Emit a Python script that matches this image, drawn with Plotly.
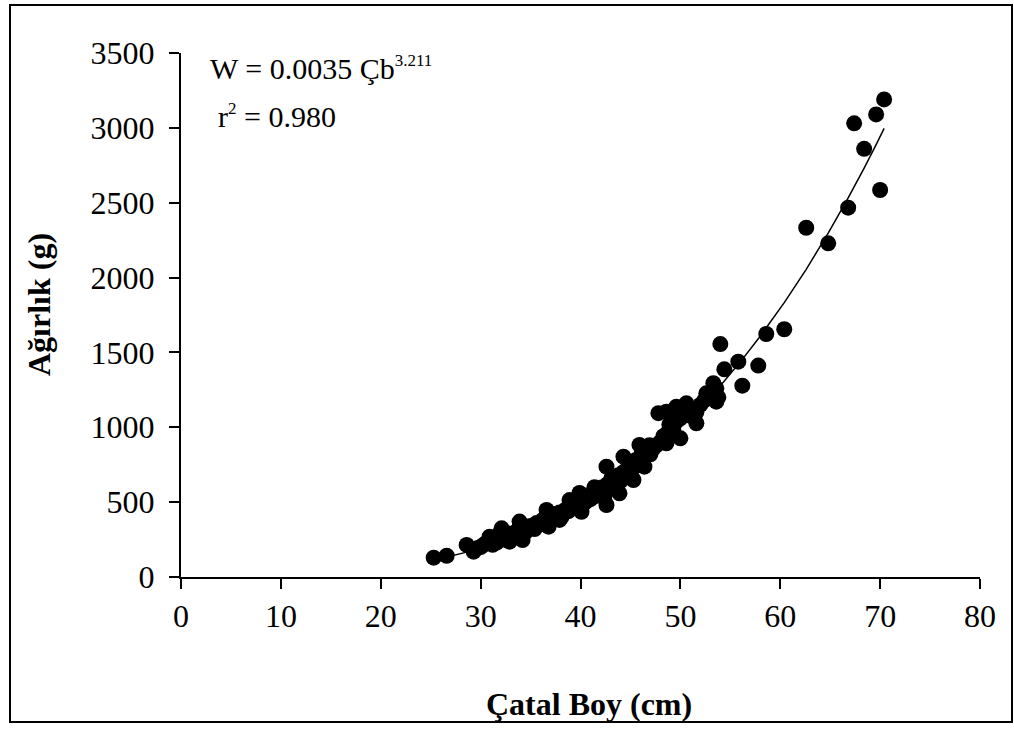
import plotly.graph_objects as go

# Fork length (cm) and weight (g)
length_cm = [
    25.3, 26.6, 28.6, 29.3, 29.7, 30.0, 30.3, 30.6, 30.9, 31.0, 31.2, 31.5, 31.8,
    32.0, 32.1, 32.3, 32.6, 32.8, 32.9, 33.0, 33.3, 33.5, 33.8, 33.9, 34.0, 34.2,
    34.2, 34.5, 34.8, 35.0, 35.3, 35.6, 35.9, 36.2, 36.5, 36.6, 36.8, 36.8, 37.0,
    37.3, 37.6, 37.9, 37.9, 38.2, 38.5, 38.8, 38.9, 39.0, 39.3, 39.6, 39.9, 39.9,
    40.1, 40.2, 40.5, 40.8, 41.0, 41.2, 41.5, 41.7, 42.0, 42.2, 42.4, 42.6, 42.6,
    42.7, 43.0, 43.2, 43.5, 43.8, 43.9, 44.0, 44.3, 44.3, 44.6, 44.9, 45.2, 45.3,
    45.5, 45.8, 45.9, 46.1, 46.4, 46.4, 46.7, 47.0, 47.3, 47.6, 47.8, 48.0, 48.3,
    48.6, 48.6, 48.7, 49.0, 49.3, 49.6, 49.6, 50.0, 50.0, 50.4, 50.6, 50.8, 51.2,
    51.6, 51.6, 52.0, 52.4, 52.6, 52.8, 53.2, 53.3, 53.6, 53.6, 53.8,
    41.4, 43.1, 44.8, 46.9, 48.9, 40.6, 38.1, 35.4, 33.6, 31.6,
    54.0, 54.4, 55.8, 56.2, 57.8, 58.6, 60.4, 62.6, 64.8, 66.8, 67.4, 68.4,
    69.6, 70.0, 70.4,
]
weight_g = [
    129, 142, 214, 169, 194, 200, 215, 230, 269, 250, 215, 240, 260,
    300, 325, 250, 270, 290, 236, 260, 280, 300, 320, 370, 280, 340,
    247, 300, 320, 340, 330, 360, 350, 380, 360, 448, 336, 400, 390,
    420, 400, 430, 381, 420, 450, 440, 514, 480, 470, 500, 480, 561,
    436, 520, 500, 540, 520, 560, 540, 580, 560, 600, 540, 737, 481,
    620, 600, 650, 620, 680, 559, 640, 700, 804, 680, 740, 720, 648,
    780, 760, 882, 820, 800, 737, 840, 820, 860, 880, 1094, 900, 940,
    1104, 893, 960, 1000, 980, 1040, 1138, 1060, 926, 1100, 1160, 1080, 1120,
    1100, 1027, 1150, 1180, 1227, 1200, 1240, 1294, 1260, 1171, 1200,
    600, 660, 760, 880, 1020, 510, 400, 320, 290, 230,
    1556, 1387, 1438, 1278, 1412, 1623, 1655, 2333, 2229, 2467, 3030, 2860,
    3090, 2585, 3190,
]

# Power-law fit shown on the chart: W = a * L^b
fit_a = 0.0035
fit_b = 3.211

x_ticks = [0, 10, 20, 30, 40, 50, 60, 70, 80]
y_ticks = [0, 500, 1000, 1500, 2000, 2500, 3000, 3500]

fit_x = sorted(length_cm)
fit_y = [fit_a * v ** fit_b for v in fit_x]

FONT = "Liberation Serif, Times New Roman, serif"

fig = go.Figure()
fig.add_trace(go.Scatter(
    x=length_cm, y=weight_g, mode="markers",
    marker=dict(size=16, color="black", line=dict(width=0)),
    showlegend=False, hoverinfo="x+y",
))
fig.add_trace(go.Scatter(
    x=fit_x, y=fit_y, mode="lines",
    line=dict(color="black", width=1.5),
    showlegend=False, hoverinfo="skip",
))

W, H = 1014, 736
L, R, T, B = 181, 34, 53, 159
pw, ph = W - L - R, H - T - B

def px_x(p):
    return (p - L) / pw

def px_y(p):
    return (H - B - p) / ph

fig.update_layout(
    width=W, height=H, autosize=False,
    margin=dict(l=L, r=R, t=T, b=B, pad=0),
    paper_bgcolor="white", plot_bgcolor="white",
    font=dict(family=FONT, color="black", size=32),
    xaxis=dict(
        range=[0, 80], tickvals=x_ticks, ticktext=[str(v) for v in x_ticks],
        ticks="outside", ticklen=10, tickwidth=2, tickcolor="black",
        showline=True, linecolor="black", linewidth=2,
        showgrid=False, zeroline=False,
        tickfont=dict(family=FONT, size=32, color="black"),
        ticklabelstandoff=0,
    ),
    yaxis=dict(
        range=[0, 3500], tickvals=y_ticks, ticktext=[str(v) for v in y_ticks],
        ticks="outside", ticklen=10, tickwidth=2, tickcolor="black",
        showline=True, linecolor="black", linewidth=2,
        showgrid=False, zeroline=False,
        tickfont=dict(family=FONT, size=32, color="black"),
        ticklabelstandoff=8,
    ),
    shapes=[dict(
        type="rect", xref="paper", yref="paper",
        x0=px_x(10), x1=px_x(1012), y0=px_y(722), y1=px_y(5),
        line=dict(color="black", width=2), fillcolor="rgba(0,0,0,0)",
        layer="above",
    )],
    annotations=[
        dict(text="W = 0.0035 Çb<sup><span style='font-size:17px'>3.211</span></sup>",
             xref="paper", yref="paper",
             x=px_x(208), y=px_y(68), xanchor="left", yanchor="middle",
             showarrow=False, font=dict(family=FONT, size=30, color="black")),
        dict(text="r<sup><span style='font-size:17px'>2</span></sup> = 0.980",
             xref="paper", yref="paper",
             x=px_x(216), y=px_y(116), xanchor="left", yanchor="middle",
             showarrow=False, font=dict(family=FONT, size=30, color="black")),
        dict(text="<b>Çatal Boy (cm)</b>", xref="paper", yref="paper",
             x=px_x(589), y=px_y(704), xanchor="center", yanchor="middle",
             showarrow=False, font=dict(family=FONT, size=32, color="black")),
        dict(text="<b>Ağırlık (g)</b>", xref="paper", yref="paper",
             x=px_x(39), y=px_y(305), xanchor="center", yanchor="middle",
             textangle=-90,
             showarrow=False, font=dict(family=FONT, size=32, color="black")),
    ],
)

fig.write_html("out.html")
